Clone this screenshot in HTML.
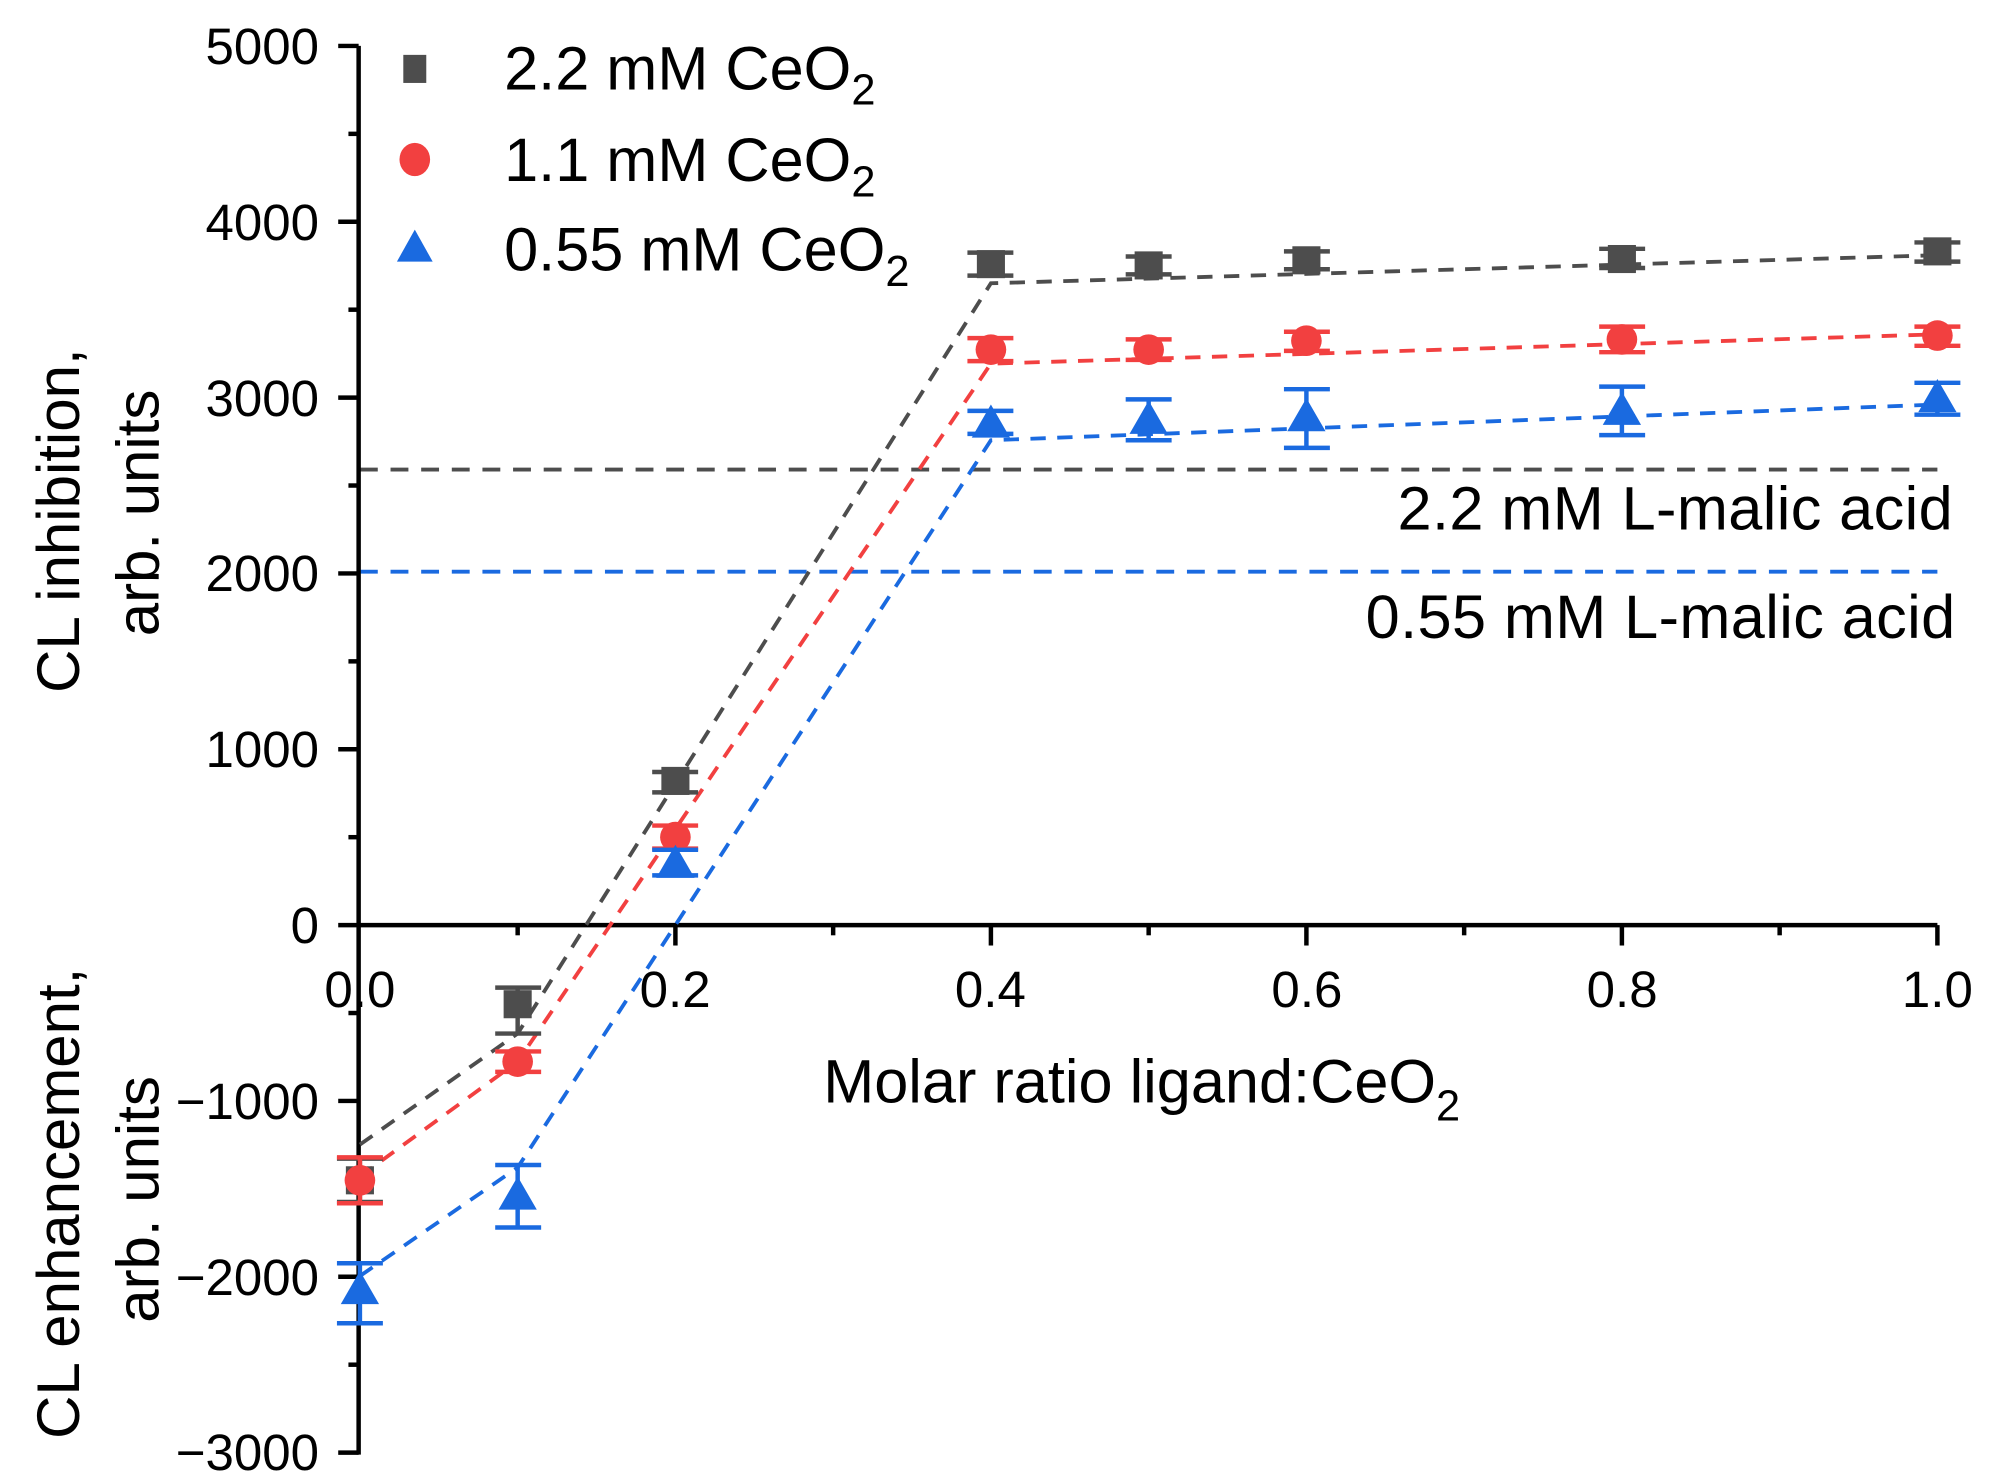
<!DOCTYPE html>
<html><head><meta charset="utf-8"><style>html,body{margin:0;padding:0;background:#fff;}svg{display:block}</style></head>
<body>
<svg width="1991" height="1484" viewBox="0 0 1560 1163" preserveAspectRatio="none" xmlns="http://www.w3.org/2000/svg" font-family="Liberation Sans, Arial, sans-serif">
<rect width="1560" height="1163" fill="#fff"/>
<!-- reference lines -->
<line x1="282" y1="368" x2="1518" y2="368" stroke="#4d4d4d" stroke-width="3" stroke-dasharray="14,10"/>
<line x1="282" y1="448" x2="1518" y2="448" stroke="#1a6ae0" stroke-width="3" stroke-dasharray="14,10"/>
<text x="1530" y="415" font-size="48" text-anchor="end" textLength="435">2.2 mM L-malic acid</text>
<text x="1532" y="500" font-size="48" text-anchor="end" textLength="462">0.55 mM L-malic acid</text>
<!-- axes -->
<g stroke="#000" stroke-width="3.5">
<line x1="281" y1="36" x2="281" y2="1140"/>
<line x1="265" y1="725" x2="1518" y2="725"/>
<line x1="265" y1="36" x2="281" y2="36"/><line x1="265" y1="173.8" x2="281" y2="173.8"/><line x1="265" y1="311.6" x2="281" y2="311.6"/><line x1="265" y1="449.4" x2="281" y2="449.4"/><line x1="265" y1="587.2" x2="281" y2="587.2"/><line x1="265" y1="862.8" x2="281" y2="862.8"/><line x1="265" y1="1000.6" x2="281" y2="1000.6"/><line x1="265" y1="1138.4" x2="281" y2="1138.4"/>
<line x1="273" y1="104.9" x2="281" y2="104.9"/><line x1="273" y1="242.7" x2="281" y2="242.7"/><line x1="273" y1="380.5" x2="281" y2="380.5"/><line x1="273" y1="518.3" x2="281" y2="518.3"/><line x1="273" y1="656.1" x2="281" y2="656.1"/><line x1="273" y1="793.9" x2="281" y2="793.9"/><line x1="273" y1="931.7" x2="281" y2="931.7"/><line x1="273" y1="1069.5" x2="281" y2="1069.5"/>
<line x1="529.2" y1="725" x2="529.2" y2="741"/><line x1="776.4" y1="725" x2="776.4" y2="741"/><line x1="1023.6" y1="725" x2="1023.6" y2="741"/><line x1="1270.8" y1="725" x2="1270.8" y2="741"/><line x1="1518" y1="725" x2="1518" y2="741"/>
<line x1="405.6" y1="725" x2="405.6" y2="733"/><line x1="652.8" y1="725" x2="652.8" y2="733"/><line x1="900" y1="725" x2="900" y2="733"/><line x1="1147.2" y1="725" x2="1147.2" y2="733"/><line x1="1394.4" y1="725" x2="1394.4" y2="733"/>
</g>
<g font-size="40" text-anchor="end">
<text x="250" y="50">5000</text><text x="250" y="188">4000</text><text x="250" y="326">3000</text><text x="250" y="463">2000</text><text x="250" y="601">1000</text><text x="250" y="739">0</text><text x="250" y="877">−1000</text><text x="250" y="1015">−2000</text><text x="250" y="1152">−3000</text>
</g>
<g font-size="40" text-anchor="middle">
<text x="282" y="789">0.0</text><text x="529" y="789">0.2</text><text x="776" y="789">0.4</text><text x="1024" y="789">0.6</text><text x="1271" y="789">0.8</text><text x="1518" y="789">1.0</text>
</g>
<text x="645" y="864" font-size="48">Molar ratio ligand:CeO<tspan font-size="34" dy="14">2</tspan></text>
<g font-size="47" text-anchor="middle">
<text transform="translate(62,408) rotate(-90)">CL inhibition,</text>
<text transform="translate(124,402) rotate(-90)">arb. units</text>
<text transform="translate(62,943) rotate(-90)">CL enhancement,</text>
<text transform="translate(124,940) rotate(-90)">arb. units</text>
</g>
<!-- fit lines -->
<polyline points="282,897 405.6,810 776.4,222 1518,200" fill="none" stroke="#4d4d4d" stroke-width="3" stroke-dasharray="12,9"/>
<polyline points="282,922 405.6,832 776.4,285 1518,262" fill="none" stroke="#f24040" stroke-width="3" stroke-dasharray="12,9"/>
<polyline points="282,1000 405.6,915 776.4,345 1518,317" fill="none" stroke="#1a6ae0" stroke-width="3" stroke-dasharray="12,9"/>
<!-- black -->
<g stroke="#4d4d4d" stroke-width="3.5" fill="#4d4d4d">
<path d="M282,908v34M264,908h36M264,942h36"/>
<path d="M405.6,774v36M388,774h36M388,810h36"/>
<path d="M529.2,605v16M511,605h36M511,621h36"/>
<path d="M776.4,198v18M758,198h36M758,216h36"/>
<path d="M900,201v14M882,201h36M882,215h36"/>
<path d="M1023.6,197v14M1006,197h36M1006,211h36"/>
<path d="M1270.8,195v15M1253,195h36M1253,210h36"/>
<path d="M1518,190v15M1500,190h36M1500,205h36"/>
<rect x="271" y="914" width="22" height="22" stroke="none"/>
<rect x="394.6" y="776" width="22" height="22" stroke="none"/>
<rect x="518.2" y="601" width="22" height="22" stroke="none"/>
<rect x="765.4" y="196" width="22" height="22" stroke="none"/>
<rect x="889" y="197" width="22" height="22" stroke="none"/>
<rect x="1012.6" y="193" width="22" height="22" stroke="none"/>
<rect x="1259.8" y="192" width="22" height="22" stroke="none"/>
<rect x="1507" y="186" width="22" height="22" stroke="none"/>
</g>
<!-- red -->
<g stroke="#f24040" stroke-width="3.5" fill="#f24040">
<path d="M282,907v36M264,907h36M264,943h36"/>
<path d="M405.6,824v16M388,824h36M388,840h36"/>
<path d="M529.2,647v18M511,647h36M511,665h36"/>
<path d="M776.4,265v18M758,265h36M758,283h36"/>
<path d="M900,266v16M882,266h36M882,282h36"/>
<path d="M1023.6,260v15M1006,260h36M1006,275h36"/>
<path d="M1270.8,256v20M1253,256h36M1253,276h36"/>
<path d="M1518,256v15M1500,256h36M1500,271h36"/>
<circle cx="282" cy="925" r="12" stroke="none"/>
<circle cx="405.6" cy="832" r="12" stroke="none"/>
<circle cx="529.2" cy="656" r="12" stroke="none"/>
<circle cx="776.4" cy="274" r="12" stroke="none"/>
<circle cx="900" cy="274" r="12" stroke="none"/>
<circle cx="1023.6" cy="267" r="12" stroke="none"/>
<circle cx="1270.8" cy="266" r="12" stroke="none"/>
<circle cx="1518" cy="263" r="12" stroke="none"/>
</g>
<!-- blue -->
<g stroke="#1a6ae0" stroke-width="3.5" fill="#1a6ae0">
<path d="M282,990v47M264,990h36M264,1037h36"/>
<path d="M405.6,913v49M388,913h36M388,962h36"/>
<path d="M529.2,666v20M511,666h36M511,686h36"/>
<path d="M776.4,322v18M758,322h36M758,340h36"/>
<path d="M900,313v32M882,313h36M882,345h36"/>
<path d="M1023.6,305v46M1006,305h36M1006,351h36"/>
<path d="M1270.8,303v38M1253,303h36M1253,341h36"/>
<path d="M1518,300v25M1500,300h36M1500,325h36"/>
<g stroke="none">
<polygon points="282,996 267,1022 297,1022"/>
<polygon points="405.6,922 390.6,948 420.6,948"/>
<polygon points="529.2,662 514.2,688 544.2,688"/>
<polygon points="776.4,317 761.4,343 791.4,343"/>
<polygon points="900,314 885,340 915,340"/>
<polygon points="1023.6,312 1008.6,338 1038.6,338"/>
<polygon points="1270.8,307 1255.8,333 1285.8,333"/>
<polygon points="1518,297 1503,323 1533,323"/>
</g>
</g>
<!-- legend -->
<rect x="316" y="43" width="18" height="22" fill="#4d4d4d"/>
<ellipse cx="325" cy="125" rx="12" ry="13" fill="#f24040"/>
<polygon points="325,180 311,205 339,205" fill="#1a6ae0"/>
<g font-size="48">
<text x="395" y="70">2.2 mM CeO<tspan font-size="34" dy="12">2</tspan></text>
<text x="395" y="142">1.1 mM CeO<tspan font-size="34" dy="12">2</tspan></text>
<text x="395" y="212">0.55 mM CeO<tspan font-size="34" dy="12">2</tspan></text>
</g>
</svg>
</body></html>
